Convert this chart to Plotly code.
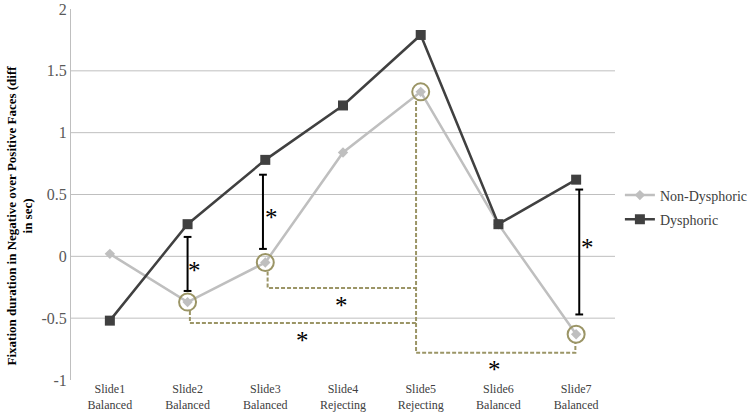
import plotly.graph_objects as go

categories = ["Slide1<br>Balanced", "Slide2<br>Balanced", "Slide3<br>Balanced", "Slide4<br>Rejecting",
              "Slide5<br>Rejecting", "Slide6<br>Balanced", "Slide7<br>Balanced"]
non_dysphoric = [0.02, -0.37, -0.05, 0.84, 1.33, 0.26, -0.63]
dysphoric = [-0.52, 0.26, 0.78, 1.22, 1.79, 0.26, 0.62]
y_ticks = [-1, -0.5, 0, 0.5, 1, 1.5, 2]
grid_vals = [-0.5, 0, 0.5, 1, 1.5]

# group-difference error bars: (x position, top, bottom)
err_x = [1.0, 1.97, 6.04]
err_top = [0.157, 0.66, 0.54]
err_bot = [-0.28, 0.06, -0.47]
err_star_x = [1.09, 2.08, 6.14]
err_star_y = [-0.065, 0.365, 0.116]

# circled Non-Dysphoric points
circled_idx = [1, 2, 4, 6]

# dashed brackets (within-group comparisons)
bracket_paths = [
    ([2.03, 2.03, 3.94], [-0.123, -0.257, -0.257]),
    ([1.03, 1.03, 3.94], [-0.443, -0.54, -0.54]),
    ([3.94, 3.94, 5.99, 5.99], [1.257, -0.78, -0.78, -0.70]),
]
bracket_star_x = [2.98, 2.48, 4.955]
bracket_star_y = [-0.35, -0.63, -0.87]

xs = list(range(len(categories)))
OLIVE = "#9B9566"
FONT = "Liberation Serif, Times New Roman, serif"

fig = go.Figure()

for bx, by in bracket_paths:
    fig.add_trace(go.Scatter(x=bx, y=by, mode="lines", showlegend=False, hoverinfo="skip",
                             line=dict(color=OLIVE, width=2, dash="4px,2px")))

fig.add_trace(go.Scatter(x=xs, y=non_dysphoric, mode="lines+markers", name="Non-Dysphoric",
                         legendgroup="nd",
                         line=dict(color="#BFBFBF", width=2.5),
                         marker=dict(symbol="diamond", size=8, color="#BFBFBF")))
fig.add_trace(go.Scatter(x=xs, y=dysphoric, mode="lines+markers", name="Dysphoric",
                         legendgroup="d",
                         line=dict(color="#404040", width=2.5),
                         marker=dict(symbol="square", size=10, color="#404040")))

fig.add_trace(go.Scatter(x=[xs[i] for i in circled_idx], y=[non_dysphoric[i] for i in circled_idx],
                         mode="markers", showlegend=False, hoverinfo="skip",
                         marker=dict(symbol="circle-open", size=17, color=OLIVE, line=dict(width=2, color=OLIVE))))

cap = 0.05
for x, t, b in zip(err_x, err_top, err_bot):
    fig.add_shape(type="line", x0=x, x1=x, y0=b, y1=t, line=dict(color="black", width=2))
    fig.add_shape(type="line", x0=x - cap, x1=x + cap, y0=t, y1=t, line=dict(color="black", width=2))
    fig.add_shape(type="line", x0=x - cap, x1=x + cap, y0=b, y1=b, line=dict(color="black", width=2))

for g in grid_vals:
    fig.add_shape(type="line", xref="paper", x0=0, x1=1, y0=g, y1=g, layer="below",
                  line=dict(color="#BFBFBF", width=1))

for sx, sy in zip(err_star_x + bracket_star_x, err_star_y + bracket_star_y):
    fig.add_annotation(x=sx, y=sy, text="*", showarrow=False, yshift=-6,
                       font=dict(family=FONT, size=25, color="black"))

fig.add_annotation(xref="paper", yref="paper", x=0, y=0.5, xshift=-52, yshift=-21, textangle=-90,
                   xanchor="center", yanchor="middle",
                   text="<b>Fixation duration in Negative over Positive Faces (diff<br>in sec)</b>",
                   showarrow=False, font=dict(family=FONT, size=13, color="black"), align="center")

fig.update_layout(
    width=750, height=416,
    margin=dict(l=71, r=135, t=9, b=36, autoexpand=False),
    plot_bgcolor="white", paper_bgcolor="white",
    font=dict(family=FONT, color="#595959"),
    legend=dict(x=1.009, y=0.465, xanchor="left", yanchor="middle",
                font=dict(family=FONT, size=14, color="#404040"), tracegroupgap=3,
                traceorder="grouped", itemwidth=30),
    xaxis=dict(tickmode="array", tickvals=xs, ticktext=categories, range=[-0.5, 6.5],
               showgrid=False, zeroline=False, showline=False, ticks="",
               tickfont=dict(family=FONT, size=12, color="#404040")),
    yaxis=dict(range=[-1, 2], tickmode="array", tickvals=y_ticks,
               ticktext=[str(v) for v in y_ticks], showgrid=False, zeroline=False,
               showline=True, linecolor="#BFBFBF", linewidth=1, ticks="",
               tickfont=dict(family=FONT, size=16, color="#595959")),
)

fig.write_html("out.html", config={"displayModeBar": False},
               post_script="document.body.style.margin='0px';")
